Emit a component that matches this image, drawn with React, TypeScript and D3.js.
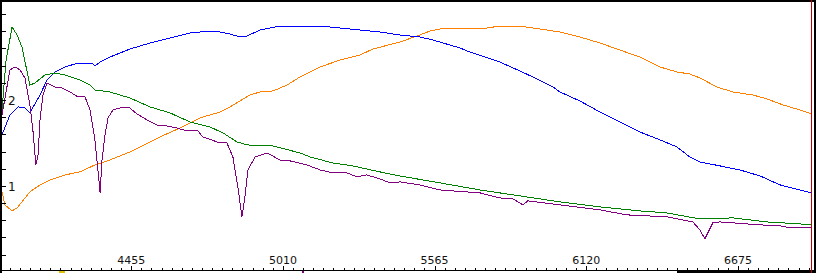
import React from "react";
import * as d3 from "d3";

const xTickLabels = [4455, 5010, 5565, 6120, 6675];
const yTickLabels = [1, 2];

const blueSeries: [number, number][] = [
  [3982, 1.593], [4011, 1.826], [4041, 1.919], [4066, 1.907], [4084, 1.849], [4121, 2.058],
  [4147, 2.233], [4176, 2.326], [4213, 2.384], [4249, 2.419], [4286, 2.43], [4311, 2.43],
  [4322, 2.395], [4341, 2.442], [4377, 2.5], [4450, 2.593], [4524, 2.663], [4597, 2.721],
  [4670, 2.779], [4706, 2.791], [4780, 2.791], [4816, 2.767], [4853, 2.733], [4878, 2.744],
  [4926, 2.814], [4999, 2.86], [5072, 2.86], [5146, 2.86], [5219, 2.837], [5292, 2.814],
  [5365, 2.791], [5438, 2.756], [5511, 2.733], [5559, 2.698], [5658, 2.605], [5694, 2.558],
  [5804, 2.442], [5877, 2.337], [5925, 2.267], [5998, 2.151], [6024, 2.093], [6097, 1.988],
  [6170, 1.86], [6243, 1.744], [6316, 1.628], [6390, 1.535], [6452, 1.453], [6499, 1.337],
  [6536, 1.279], [6609, 1.233], [6682, 1.186], [6756, 1.116], [6829, 1.012], [6902, 0.953],
  [6946, 0.919],
];

const orangeSeries: [number, number][] = [
  [3982, 0.93], [3993, 0.779], [4019, 0.709], [4037, 0.744], [4055, 0.814], [4084, 0.93],
  [4121, 1.012], [4158, 1.07], [4213, 1.128], [4267, 1.163], [4322, 1.244], [4377, 1.302],
  [4450, 1.395], [4560, 1.57], [4633, 1.674], [4706, 1.791], [4780, 1.86], [4816, 1.919],
  [4889, 2.058], [4926, 2.093], [4974, 2.105], [5025, 2.174], [5072, 2.267], [5146, 2.384],
  [5219, 2.465], [5292, 2.523], [5339, 2.593], [5438, 2.674], [5511, 2.756], [5548, 2.802],
  [5585, 2.826], [5731, 2.826], [5804, 2.86], [5877, 2.86], [5950, 2.826], [6024, 2.791],
  [6097, 2.733], [6170, 2.663], [6243, 2.581], [6316, 2.5], [6390, 2.384], [6452, 2.326],
  [6499, 2.302], [6536, 2.256], [6598, 2.151], [6657, 2.093], [6730, 2.058], [6781, 2.012],
  [6840, 1.942], [6902, 1.884], [6946, 1.837],
];

const greenSeries: [number, number][] = [
  [3982, 1.884], [3997, 2.465], [4019, 2.849], [4037, 2.756], [4055, 2.616], [4084, 2.174],
  [4103, 2.198], [4139, 2.291], [4176, 2.314], [4213, 2.291], [4267, 2.233], [4304, 2.174],
  [4322, 2.116], [4377, 2.093], [4450, 2.023], [4524, 1.919], [4597, 1.849], [4670, 1.744],
  [4743, 1.686], [4791, 1.616], [4842, 1.512], [4878, 1.477], [4974, 1.465], [5072, 1.384],
  [5109, 1.337], [5193, 1.267], [5266, 1.233], [5365, 1.163], [5438, 1.116], [5585, 1.035],
  [5731, 0.953], [5877, 0.884], [6024, 0.814], [6170, 0.756], [6316, 0.709], [6415, 0.686],
  [6536, 0.616], [6657, 0.628], [6781, 0.581], [6902, 0.558], [6946, 0.547],
];

const purpleSeries: [number, number][] = [
  [3982, 1.826], [4011, 2.349], [4030, 2.384], [4048, 2.349], [4066, 2.256], [4084, 1.942],
  [4095, 1.651], [4106, 1.244], [4114, 1.36], [4121, 1.767], [4132, 2.058], [4147, 2.198],
  [4176, 2.151], [4202, 2.14], [4231, 2.093], [4260, 2.035], [4286, 2.035], [4304, 1.884],
  [4322, 1.535], [4333, 1.186], [4341, 0.919], [4348, 1.302], [4359, 1.593], [4370, 1.791],
  [4388, 1.884], [4414, 1.907], [4450, 1.907], [4476, 1.837], [4513, 1.767], [4549, 1.709],
  [4586, 1.698], [4622, 1.674], [4659, 1.64], [4696, 1.651], [4717, 1.57], [4780, 1.5],
  [4805, 1.5], [4827, 1.337], [4845, 0.988], [4860, 0.64], [4871, 0.872], [4882, 1.186],
  [4908, 1.337], [4952, 1.384], [4999, 1.302], [5036, 1.291], [5098, 1.244], [5146, 1.186],
  [5193, 1.151], [5244, 1.151], [5281, 1.105], [5317, 1.128], [5365, 1.081], [5402, 1.035],
  [5438, 1.047], [5511, 1.012], [5585, 0.953], [5731, 0.919], [5804, 0.86], [5852, 0.849],
  [5888, 0.779], [5906, 0.826], [6024, 0.779], [6170, 0.721], [6269, 0.663], [6415, 0.64],
  [6510, 0.581], [6536, 0.488], [6554, 0.384], [6583, 0.57], [6609, 0.581], [6756, 0.547],
  [6829, 0.535], [6865, 0.512], [6946, 0.512],
];

const seriesList = [
  { data: orangeSeries, color: "#ff8000" },
  { data: blueSeries, color: "#0000ff" },
  { data: greenSeries, color: "#008000" },
  { data: purpleSeries, color: "#800080" },
];

const W = 816;
const H = 273;
const left = 2;
const right = 812;
const top = 2;
const bottom = 271;

export default function App() {
  const x = d3.scaleLinear().domain([3982, 6946]).range([left, right]);
  const y = d3.scaleLinear().domain([0.01, 3.14]).range([bottom, top]);
  const line = d3
    .line<[number, number]>()
    .x((d) => x(d[0]))
    .y((d) => y(d[1]));

  const minorX: number[] = [];
  for (let v = 4455 - 37 * 15; v <= 6946; v += 37) {
    if (v >= 3982) minorX.push(v);
  }
  const minorY: number[] = [];
  for (let k = 1; k <= 15; k++) minorY.push(k * 0.2);

  return (
    <div style={{ position: "fixed", left: 0, top: 0, width: W, height: H, background: "#fff" }}>
      <svg width={W} height={H} style={{ display: "block" }}>
        <defs>
          <clipPath id="plotClip">
            <rect x={left} y={top} width={right - left} height={bottom - top} />
          </clipPath>
        </defs>
        <rect x={0} y={0} width={W} height={H} fill="#fff" />
        <g clipPath="url(#plotClip)">
          {seriesList.map((s, i) => (
            <path
              key={i}
              d={line(s.data) || ""}
              fill="none"
              stroke={s.color}
              strokeWidth={1}
              shapeRendering="crispEdges"
            />
          ))}
        </g>
        {/* frame */}
        <rect x={0} y={0} width={W} height={2} fill="#000" />
        <rect x={0} y={0} width={2} height={H} fill="#000" />
        <rect x={0} y={270} width={W} height={1} fill="#000" />
        <rect x={677} y={271} width={137} height={2} fill="#000" />
        <rect x={811} y={0} width={1} height={H} fill="#c00000" />
        <rect x={814} y={0} width={2} height={H} fill="#000" />
        <rect x={59} y={271} width={6} height={2} fill="#e0c000" />
        <rect x={302} y={271} width={2} height={2} fill="#800080" />
        {/* y ticks */}
        {minorY.map((v, i) => (
          <line key={"yt" + i} x1={2} x2={6} y1={Math.round(y(v)) + 0.5} y2={Math.round(y(v)) + 0.5} stroke="#000" strokeWidth={1} />
        ))}
        {yTickLabels.map((v) => (
          <text key={"yl" + v} x={8} y={y(v) + 5} fontFamily="DejaVu Sans, Verdana, sans-serif" fontSize={12} fill="#111">
            {v}
          </text>
        ))}
        {/* x ticks */}
        {minorX.map((v, i) => (
          <line key={"xt" + i} x1={Math.round(x(v)) + 0.5} x2={Math.round(x(v)) + 0.5} y1={268} y2={270} stroke="#000" strokeWidth={1} />
        ))}
        {xTickLabels.map((v) => (
          <g key={"xl" + v}>
            <line x1={Math.round(x(v)) + 0.5} x2={Math.round(x(v)) + 0.5} y1={266} y2={270} stroke="#000" strokeWidth={1} />
            <text x={x(v)} y={264} textAnchor="middle" fontFamily="DejaVu Sans, Verdana, sans-serif" fontSize={11} fill="#111">
              {v}
            </text>
          </g>
        ))}
      </svg>
    </div>
  );
}
